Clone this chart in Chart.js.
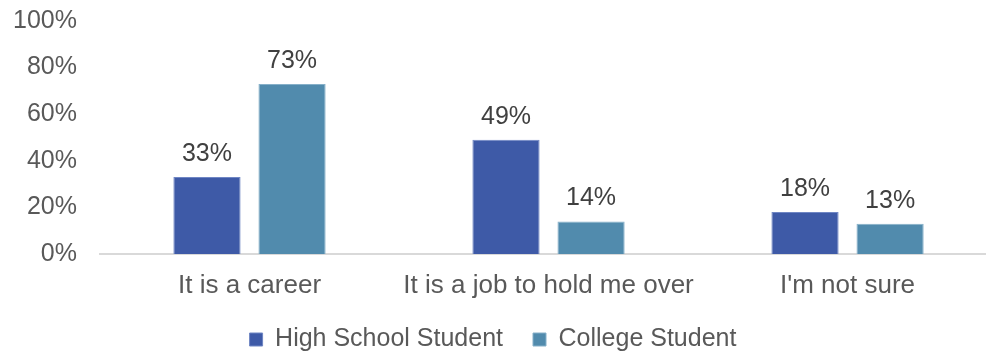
<!DOCTYPE html>
<html>
<head>
<meta charset="utf-8">
<script src="https://cdn.jsdelivr.net/npm/chart.js@4/dist/chart.umd.min.js"></script>
<style>
  html, body { margin: 0; padding: 0; background: #fff; }
  #wrap { width: 986px; height: 354px; }
</style>
</head>
<body>
<div id="wrap"><canvas id="survey-chart"></canvas></div>
<script>
/*----- constants -----*/
const categories = ['It is a career', 'It is a job to hold me over', "I'm not sure"]
const highSchool = [33, 49, 18]
const college = [73, 14, 13]
const yTicks = [0, 20, 40, 60, 80, 100]

const FONT = "'Liberation Sans', Arial, sans-serif"

/*----- plugins -----*/
// prints the value above each bar
const barValues = {
    id: 'barValues',
    afterDatasetsDraw(chart) {
        const ctx = chart.ctx
        ctx.save()
        ctx.font = '25px ' + FONT
        ctx.fillStyle = '#404040'
        ctx.textAlign = 'center'
        ctx.textBaseline = 'alphabetic'
        chart.data.datasets.forEach((ds, i) => {
            chart.getDatasetMeta(i).data.forEach((bar, j) => {
                ctx.fillText(ds.data[j] + '%', bar.x, bar.y - 16)
            })
        })
        ctx.restore()
    }
}

// nudges the legend row down, and lets the x labels spill past their box
const legendNudge = {
    id: 'legendNudge',
    afterLayout(chart) {
        chart.legend.top += 8
        chart.legend.bottom += 8
        chart.scales.x.bottom += 20
    }
}

/*----- chart -----*/
const canvas = document.getElementById('survey-chart')

new Chart(canvas, {
    type: 'bar',
    data: {
        labels: categories,
        datasets: [
            {
                label: 'High School Student',
                data: highSchool,
                backgroundColor: '#3E5AA7',
                borderColor: '#6F86C4',
                borderWidth: 1,
                categoryPercentage: 0.569,
                barPercentage: 0.79
            },
            {
                label: 'College Student',
                data: college,
                backgroundColor: '#518BAD',
                borderColor: '#86B0C9',
                borderWidth: 1,
                categoryPercentage: 0.569,
                barPercentage: 0.79
            }
        ]
    },
    options: {
        responsive: true,
        maintainAspectRatio: false,
        animation: false,
        layout: { padding: { top: 21, right: 0, left: 0, bottom: 0 } },
        scales: {
            x: {
                afterFit(scale) { scale.height = 35 },
                // the plot runs a little past the right edge of the canvas
                afterUpdate(scale) { scale._valueRange = 2.963 },
                grid: { display: false, drawTicks: false },
                border: { display: true, color: '#D9D9D9', width: 2 },
                ticks: {
                    color: '#595959',
                    font: { family: FONT, size: 26 },
                    padding: 16,
                    maxRotation: 0,
                    minRotation: 0,
                    autoSkip: false
                }
            },
            y: {
                min: 0,
                max: 100,
                afterFit(scale) { scale.width = 100 },
                afterBuildTicks(scale) { scale.ticks = yTicks.map(v => ({ value: v })) },
                grid: { display: false, drawTicks: true, tickLength: 23 },
                border: { display: false },
                ticks: {
                    color: '#595959',
                    font: { family: FONT, size: 25 },
                    padding: 0,
                    callback: value => value + '%'
                }
            }
        },
        plugins: {
            tooltip: { enabled: false },
            legend: {
                position: 'bottom',
                labels: {
                    color: '#595959',
                    font: { family: FONT, size: 25 },
                    boxWidth: 13,
                    boxHeight: 13,
                    padding: 30
                }
            }
        }
    },
    plugins: [barValues, legendNudge]
})
</script>
</body>
</html>
